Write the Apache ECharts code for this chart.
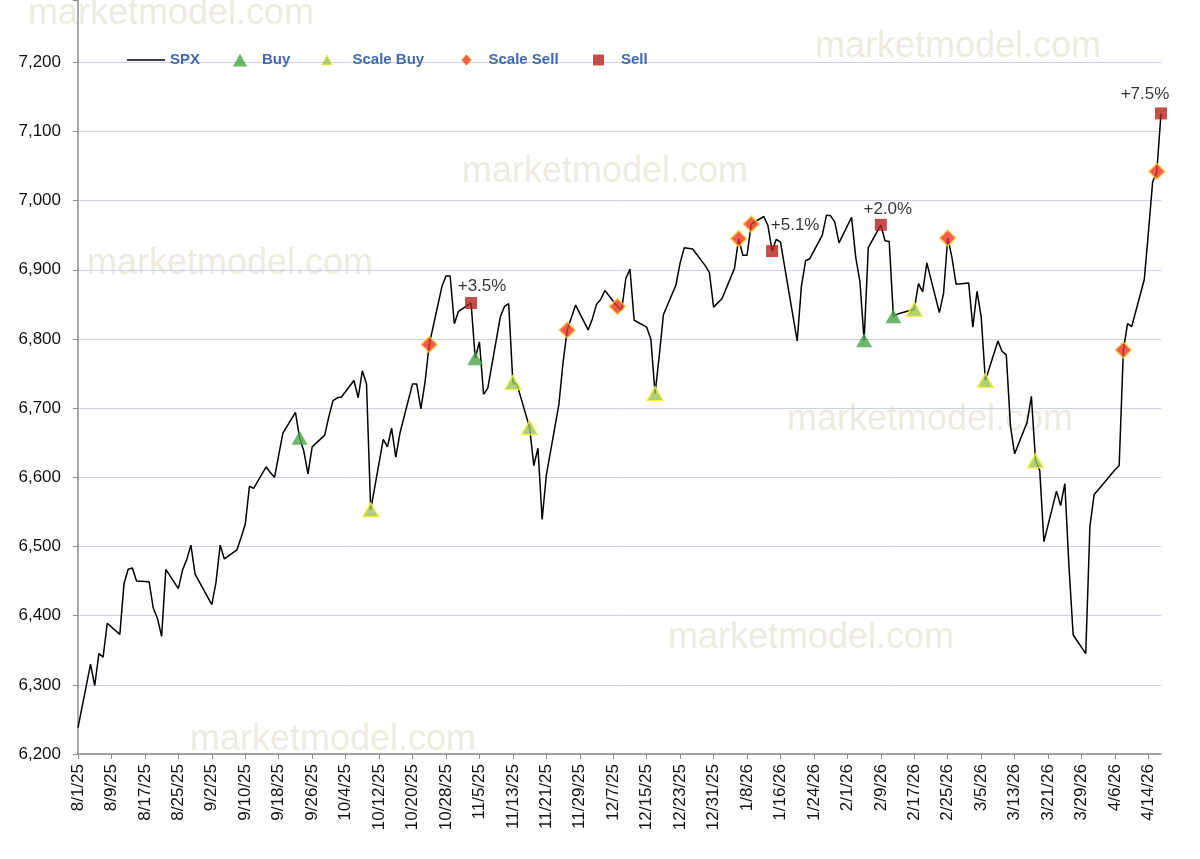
<!DOCTYPE html>
<html><head><meta charset="utf-8">
<script src="https://cdn.jsdelivr.net/npm/echarts@6/dist/echarts.min.js"></script>
<style>html,body{margin:0;padding:0;background:#fff}#c{width:1200px;height:859px}</style>
</head><body><div id="c"></div>
<script>
// ---- data ----
const spxDates = [
 '8/1/25','8/4/25','8/5/25','8/6/25','8/7/25','8/8/25','8/11/25','8/12/25','8/13/25','8/14/25','8/15/25','8/18/25','8/19/25','8/20/25','8/21/25','8/22/25','8/25/25','8/26/25','8/27/25','8/28/25','8/29/25',
 '9/2/25','9/3/25','9/4/25','9/5/25','9/8/25','9/9/25','9/10/25','9/11/25','9/12/25','9/15/25','9/16/25','9/17/25','9/18/25','9/19/25','9/22/25','9/23/25','9/24/25','9/25/25','9/26/25','9/29/25','9/30/25',
 '10/1/25','10/2/25','10/3/25','10/6/25','10/7/25','10/8/25','10/9/25','10/10/25','10/13/25','10/14/25','10/15/25','10/16/25','10/17/25','10/20/25','10/21/25','10/22/25','10/23/25','10/24/25','10/27/25','10/28/25','10/29/25','10/30/25','10/31/25',
 '11/3/25','11/4/25','11/5/25','11/6/25','11/7/25','11/10/25','11/11/25','11/12/25','11/13/25','11/14/25','11/17/25','11/18/25','11/19/25','11/20/25','11/21/25','11/24/25','11/25/25','11/26/25','11/28/25',
 '12/1/25','12/2/25','12/3/25','12/4/25','12/5/25','12/8/25','12/9/25','12/10/25','12/11/25','12/12/25','12/15/25','12/16/25','12/17/25','12/18/25','12/19/25','12/22/25','12/23/25','12/24/25','12/26/25','12/29/25','12/30/25','12/31/25',
 '1/2/26','1/5/26','1/6/26','1/7/26','1/8/26','1/9/26','1/12/26','1/13/26','1/14/26','1/15/26','1/16/26','1/20/26','1/21/26','1/22/26','1/23/26','1/26/26','1/27/26','1/28/26','1/29/26','1/30/26',
 '2/2/26','2/3/26','2/4/26','2/5/26','2/6/26','2/9/26','2/10/26','2/11/26','2/12/26','2/13/26','2/17/26','2/18/26','2/19/26','2/20/26','2/23/26','2/24/26','2/25/26','2/26/26','2/27/26',
 '3/2/26','3/3/26','3/4/26','3/5/26','3/6/26','3/9/26','3/10/26','3/11/26','3/12/26','3/13/26','3/16/26','3/17/26','3/18/26','3/19/26','3/20/26','3/23/26','3/24/26','3/25/26','3/26/26','3/27/26','3/30/26','3/31/26',
 '4/1/26','4/2/26','4/6/26','4/7/26','4/8/26','4/9/26','4/10/26','4/13/26','4/14/26','4/15/26','4/16/26','4/17/26'
];
const spxValues = [
 6238,6330,6299,6345,6340,6389,6373,6446,6467,6469,6450,6449,6411,6396,6370,6467,6439,6466,6481,6502,6460,
 6416,6448,6502,6482,6495,6513,6532,6587,6584,6615,6607,6600,6632,6664,6694,6657,6638,6605,6644,6661,6688,
 6711,6715,6716,6740,6715,6754,6735,6553,6655,6644,6671,6629,6664,6735,6735,6699,6738,6792,6875,6891,6891,6822,6840,
 6852,6772,6796,6720,6729,6832,6847,6851,6737,6734,6672,6617,6642,6539,6603,6705,6766,6813,6849,
 6813,6829,6850,6857,6870,6847,6841,6887,6901,6827,6817,6800,6721,6775,6835,6878,6910,6932,6930,6906,6896,6846,
 6858,6902,6945,6921,6921,6966,6977,6964,6927,6944,6940,6797,6876,6913,6916,6950,6979,6978,6969,6939,
 6976,6918,6883,6798,6932,6965,6942,6941,6833,6836,6843,6880,6868,6910,6838,6866,6946,6918,6879,
 6881,6817,6869,6832,6740,6797,6782,6777,6674,6634,6680,6717,6624,6610,6507,6580,6559,6591,6470,6372,6345,6529,
 6575,6582,6611,6617,6784,6822,6818,6886,6955,7027,7042,7126
];
const buyDates = ['9/23/25','11/4/25','2/5/26','2/12/26'];
const scaleBuyDates = ['10/10/25','11/13/25','11/17/25','12/17/25','2/17/26','3/6/26','3/18/26'];
const scaleSellDates = ['10/24/25','11/26/25','12/8/25','1/6/26','1/9/26','2/25/26','4/8/26','4/16/26'];
const sellDates = ['11/3/25','1/14/26','2/9/26','4/17/26'];
const sellLabels = ['+3.5%','+5.1%','+2.0%','+7.5%'];
const yTicks = {min: 6200, max: 7290, interval: 100, lastLabel: 7200};
const axisStart = [2025, 7, 1], axisEnd = [2026, 3, 17];

// ---- build ----
function fmt(d){return (d.getUTCMonth()+1)+'/'+d.getUTCDate()+'/'+String(d.getUTCFullYear()).slice(2);}
const categories = [];
for (let t = Date.UTC(...axisStart); t <= Date.UTC(...axisEnd); t += 86400000) categories.push(fmt(new Date(t)));
const spxMap = {};
spxDates.forEach((d,i)=>spxMap[d]=spxValues[i]);
const pts = ds => ds.map(d => [d, spxMap[d]]);
const labelOffsets = [[11,-17],[23,-26],[7,-16],[-16,-19]];

const C = {buy:'#4AA54A', sbuy:'#9DC25A', sbuyB:'#F2F23A', ssell:'#EC3320', ssellB:'#F7D13A', sell:'#B5221B'};
const FONT = '"Liberation Sans", Arial, sans-serif';

const chart = echarts.init(document.getElementById('c'), null, {renderer:'canvas'});
const wm = (x,y) => ({type:'text', left:x, top:y, z:-10, silent:true,
  style:{text:'marketmodel.com', fill:'#EDEAE0', font:'36px "Liberation Sans", Arial, sans-serif'}});
const lg = (name, left, w, h, icon, pad, style) => ({
  data:[{name, icon, itemStyle:style}], left, top:51, padding:0, itemWidth:w, itemHeight:h, selectedMode:false,
  textStyle:{color:'#4169B0', fontSize:15, fontWeight:'bold', fontFamily:FONT, lineHeight:18, padding:[0,0,0,pad]}
});
chart.setOption({
  backgroundColor:'#fff',
  animation:false,
  graphic:[wm(28,-4), wm(815,29), wm(462,154), wm(87,246), wm(787,402), wm(668,620), wm(190,722)],
  grid:{left:78, right:39, top:0, bottom:105, containLabel:false},
  legend:[
    lg('SPX', 127, 38, 1.5, 'rect', 0, {color:'#000'}),
    lg('Buy', 233, 14, 13, 'triangle', 10, {color:C.buy}),
    lg('Scale Buy', 321, 11, 10, 'triangle', 15, {color:C.sbuy, borderColor:C.sbuyB, borderWidth:1}),
    lg('Scale Sell', 461, 10, 11, 'diamond', 12, {color:C.ssell, borderColor:C.ssellB, borderWidth:1}),
    lg('Sell', 593, 11, 11, 'rect', 12, {color:C.sell})
  ],
  xAxis:{
    type:'category', data:categories, boundaryGap:false,
    axisLine:{lineStyle:{color:'#8C8C8C', width:1.5}},
    axisTick:{interval:7, length:5, lineStyle:{color:'#8C8C8C'}},
    axisLabel:{interval:7, rotate:90, margin:10, color:'#111', fontSize:17, fontFamily:FONT},
    splitLine:{show:false}
  },
  yAxis:{
    type:'value', min:yTicks.min, max:yTicks.max, interval:yTicks.interval,
    axisLine:{show:true, lineStyle:{color:'#8C8C8C', width:1.5}},
    axisTick:{show:true, length:5, lineStyle:{color:'#8C8C8C'}},
    axisLabel:{margin:17, color:'#111', fontSize:17, fontFamily:FONT,
      formatter:v => v > yTicks.lastLabel ? '' : v.toLocaleString('en-US')},
    splitLine:{showMaxLine:false, lineStyle:{color:'#C8D2E4', width:1}}
  },
  series:[
    {name:'SPX', type:'line', data:spxDates.map((d,i)=>[d, spxValues[i]]), symbol:'none',
      lineStyle:{color:'#000', width:1.5}, itemStyle:{color:'#000'}, z:2},
    {name:'Buy', type:'scatter', data:pts(buyDates), symbol:'triangle', symbolSize:[16,14],
      itemStyle:{color:C.buy}, z:5},
    {name:'Scale Buy', type:'scatter', data:pts(scaleBuyDates), symbol:'triangle', symbolSize:[16,14],
      itemStyle:{color:C.sbuy, borderColor:C.sbuyB, borderWidth:1.5}, z:5},
    {name:'Scale Sell', type:'scatter', data:pts(scaleSellDates), symbol:'diamond', symbolSize:[16,16],
      itemStyle:{color:C.ssell, borderColor:C.ssellB, borderWidth:1.5}, z:5},
    {name:'Sell', type:'scatter', data:pts(sellDates).map((p,i)=>({value:p,
        label:{show:true, position:'inside', offset:labelOffsets[i], formatter:sellLabels[i],
          color:'#000', textBorderWidth:0, fontSize:17, fontFamily:FONT}})),
      symbol:'rect', symbolSize:12, itemStyle:{color:C.sell}, z:6}
  ]
});
</script></body></html>
